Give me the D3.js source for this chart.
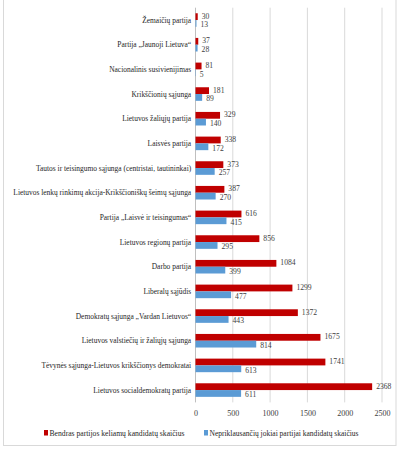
<!DOCTYPE html>
<html><head><meta charset="utf-8">
<script src="https://cdn.jsdelivr.net/npm/d3@7"></script>
<style>body{margin:0;background:#fff}svg{display:block}</style>
</head><body>
<svg id="c" width="400" height="450"></svg>
<script>
const categories = [
  "Žemaičių partija",
  "Partija „Jaunoji Lietuva“",
  "Nacionalinis susivienijimas",
  "Krikščionių sąjunga",
  "Lietuvos žaliųjų partija",
  "Laisvės partija",
  "Tautos ir teisingumo sąjunga (centristai, tautininkai)",
  "Lietuvos lenkų rinkimų akcija-Krikščioniškų šeimų sąjunga",
  "Partija „Laisvė ir teisingumas“",
  "Lietuvos regionų partija",
  "Darbo partija",
  "Liberalų sąjūdis",
  "Demokratų sąjunga „Vardan Lietuvos“",
  "Lietuvos valstiečių ir žaliųjų sąjunga",
  "Tėvynės sąjunga-Lietuvos krikščionys demokratai",
  "Lietuvos socialdemokratų partija"
];
const totalCandidates = [30, 37, 81, 181, 329, 338, 373, 387, 616, 856, 1084, 1299, 1372, 1675, 1741, 2368];
const independentCandidates = [13, 28, 5, 89, 140, 172, 257, 270, 415, 295, 399, 477, 443, 814, 613, 611];
const seriesNames = ["Bendras partijos keliamų kandidatų skaičius", "Nepriklausančių jokiai partijai kandidatų skaičius"];
const xTicks = [0, 500, 1000, 1500, 2000, 2500];

const colors = ["#C00000", "#5B9BD5"];
const svg = d3.select("#c");
const font = "'Liberation Serif','Times New Roman',serif";

svg.append("rect").attr("x", 3.5).attr("y", -1).attr("width", 392.5).attr("height", 446.5)
  .attr("fill", "none").attr("stroke", "#d9d9d9");

const pLeft = 195.5, pRight = 382, pTop = 7.7, pBottom = 402.4;
const x = d3.scaleLinear().domain([0, 2500]).range([pLeft, pRight]);
const y = d3.scaleBand().domain(categories).range([pTop, pBottom]).paddingInner(0.45).paddingOuter(0.225);
const sub = d3.scaleBand().domain([0, 1]).range([0, y.bandwidth()]);

// gridlines
svg.append("g").selectAll("line").data(xTicks.slice(1)).join("line")
  .attr("x1", d => x(d)).attr("x2", d => x(d)).attr("y1", pTop).attr("y2", pBottom)
  .attr("stroke", "#d9d9d9").attr("stroke-width", 1);

// axis at 0
svg.append("line").attr("x1", x(0)).attr("x2", x(0)).attr("y1", pTop).attr("y2", pBottom)
  .attr("stroke", "#bfbfbf");

const rows = categories.map((c, i) => ({c, v: [totalCandidates[i], independentCandidates[i]]}));
const g = svg.append("g").selectAll("g").data(rows).join("g")
  .attr("transform", d => `translate(0,${y(d.c)})`);
g.selectAll("rect").data(d => d.v).join("rect")
  .attr("x", x(0)).attr("y", (d, i) => sub(i)).attr("height", sub.bandwidth())
  .attr("width", d => x(d) - x(0)).attr("fill", (d, i) => colors[i]);
g.selectAll("text.v").data(d => d.v).join("text").attr("class", "v")
  .attr("x", d => x(d) + 4).attr("y", (d, i) => sub(i) + sub.bandwidth() / 2 + (i === 0 ? -1 : 1))
  .attr("dy", "0.35em").attr("font-family", font).attr("font-size", 8.5).attr("fill", "#404040")
  .attr("transform", d => { const x0 = x(d) + 4; return `translate(${x0},0) scale(0.9,1) translate(${-x0},0)`; })
  .text(d => d);

// category labels
const yAxis = d3.axisLeft(y).tickSize(0).tickPadding(5);
const ya = svg.append("g").call(yAxis);
ya.select(".domain").remove();
ya.selectAll("text").attr("font-family", font).attr("font-size", 8.6).attr("fill", "#262626");
let maxW = 0;
ya.selectAll("text").each(function () { maxW = Math.max(maxW, this.getComputedTextLength()); });
const sx = 178 / maxW;
ya.attr("transform", `translate(${x(0)},0) scale(${sx},1)`);

// x axis
const xAxis = d3.axisBottom(x).tickValues(xTicks).tickSize(0).tickPadding(8).tickFormat(d3.format("d"));
const xa = svg.append("g").attr("transform", `translate(0,${pBottom})`).call(xAxis);
xa.select(".domain").remove();
xa.selectAll("text").attr("font-family", font).attr("font-size", 8).attr("fill", "#404040");

// legend
const legX = [44, 204];
const legW = [135, 149];
const lg = svg.append("g").selectAll("g").data(seriesNames).join("g")
  .attr("transform", (d, i) => `translate(${legX[i]},433)`);
lg.append("rect").attr("x", 0).attr("y", -3).attr("width", 4).attr("height", 5.5).attr("fill", (d, i) => colors[i]);
lg.append("text").attr("x", 5.5).attr("y", 0).attr("dy", "0.32em").attr("font-family", font)
  .attr("font-size", 8.6).attr("fill", "#262626")
  .attr("textLength", (d, i) => legW[i]).attr("lengthAdjust", "spacingAndGlyphs")
  .text(d => d);
</script>
</body></html>
